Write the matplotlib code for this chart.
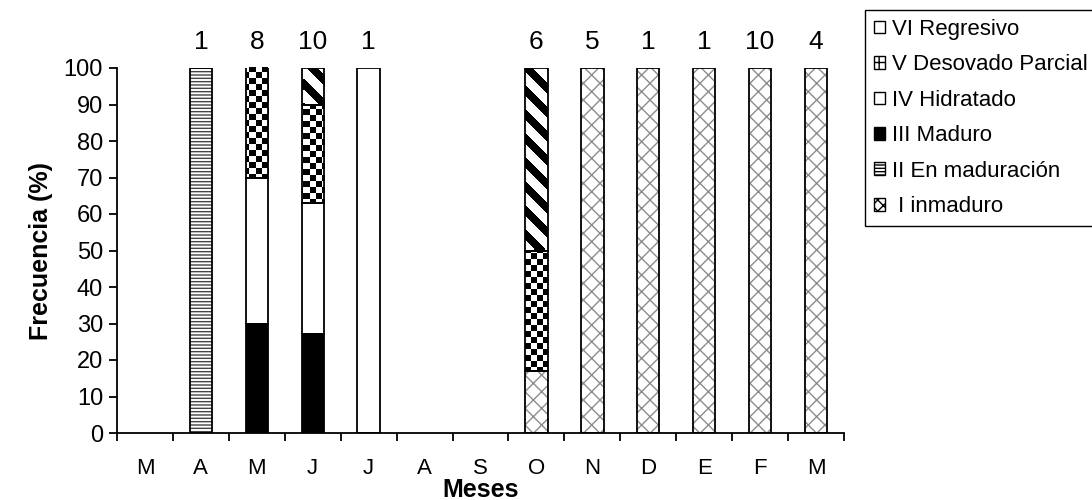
import numpy as np
import matplotlib
matplotlib.use('Agg')
import matplotlib.pyplot as plt
from matplotlib.patches import Patch

plt.rcParams['font.family'] = ['Liberation Sans', 'DejaVu Sans']

# data
months = ['M', 'A', 'M', 'J', 'J', 'A', 'S', 'O', 'N', 'D', 'E', 'F', 'M']
n_fish = ['', '1', '8', '10', '1', '', '', '6', '5', '1', '1', '10', '4']
stage_I = [0, 0, 0, 0, 0, 0, 0, 17, 100, 100, 100, 100, 100]
stage_II = [0, 100, 0, 0, 0, 0, 0, 0, 0, 0, 0, 0, 0]
stage_III = [0, 0, 30, 27, 0, 0, 0, 0, 0, 0, 0, 0, 0]
stage_IV = [0, 0, 40, 36, 100, 0, 0, 0, 0, 0, 0, 0, 0]
stage_V = [0, 0, 31, 27, 0, 0, 0, 33, 0, 0, 0, 0, 0]
stage_VI = [0, 0, 0, 10, 0, 0, 0, 50, 0, 0, 0, 0, 0]
labels = [' I inmaduro', 'II En maduración', 'III Maduro', 'IV Hidratado',
          'V Desovado Parcial', 'VI Regresivo']

# style per stage: facecolor, hatch, hatch color
styles = [
    ('white', 'xx', '#8c8c8c'),
    ('white', '-----', '#444444'),
    ('black', None, 'black'),
    ('white', None, 'black'),
    ('none', None, 'black'),   # checkerboard, drawn as texture
    ('none', None, 'black'),   # diagonal stripes, drawn as texture
]

fig = plt.figure(figsize=(10.92, 5), dpi=100)
ax = fig.add_axes([117/1092, 1-433/500, 727/1092, 365/500])

x = np.arange(len(months))
w = 0.4
stages = [stage_I, stage_II, stage_III, stage_IV, stage_V, stage_VI]
bottom = np.zeros(len(months))

# textures in screen pixels over the axes area (727 x 365)
rr, cc = np.mgrid[0:365, 0:727]
checker = (((rr // 6) + (cc // 6)) % 2).astype(float)
stripes = (((rr + cc) % 24) >= 11).astype(float)
textures = {4: checker, 5: stripes}

for k, vals in enumerate(stages):
    vals = np.array(vals, dtype=float)
    fc, hatch, hc = styles[k]
    bars = ax.bar(x, vals, w, bottom=bottom, color=fc, hatch=hatch,
                  edgecolor=hc, linewidth=0, zorder=1)
    if k in textures:
        for b, v in zip(bars, vals):
            if v > 0:
                im = ax.imshow(textures[k], cmap='gray', vmin=0, vmax=1,
                               extent=[-0.5, 12.5, 0, 100], aspect='auto',
                               interpolation='nearest', zorder=0.5,
                               origin='lower')
                im.set_clip_path(b)
    outline = ax.bar(x, vals, w, bottom=bottom, fill=False,
                     edgecolor='black', linewidth=1.3, zorder=2)
    for b, v in zip(outline, vals):
        if v == 0:
            b.set_visible(False)
    bottom += vals

for xi, t in zip(x, n_fish):
    ax.text(xi, 107, t, ha='center', va='center', fontsize=19, clip_on=False)

ax.set_xlim(-0.5, 12.5)
ax.set_ylim(0, 100)
ax.set_yticks(np.arange(0, 101, 10))
ax.set_xticks(x)
ax.set_xticklabels(months)
ax.set_xticks(np.arange(-0.5, 13, 1), minor=True)
ax.tick_params(axis='x', which='major', length=0, pad=18, labelsize=16)
ax.tick_params(axis='x', which='minor', length=6, width=1.3, direction='out')
ax.tick_params(axis='y', length=6, width=1.3, labelsize=17, pad=4)
for s in ['top', 'right']:
    ax.spines[s].set_visible(False)
for s in ['left', 'bottom']:
    ax.spines[s].set_linewidth(1.3)

ax.set_xlabel('Meses', fontsize=18, fontweight='bold')
ax.xaxis.set_label_coords(0.5, -0.123)
ax.set_ylabel('Frecuencia (%)', fontsize=18, fontweight='bold', labelpad=8)

with plt.rc_context({'hatch.linewidth': 2.5}):
    handles = [
        Patch(facecolor='white', hatch='xxx', edgecolor='black'),
        Patch(facecolor='white', hatch='-----', edgecolor='black'),
        Patch(facecolor='black', edgecolor='black'),
        Patch(facecolor='white', edgecolor='black'),
        Patch(facecolor='white', hatch='++', edgecolor='black'),
        Patch(facecolor='white', hatch='\\', edgecolor='black'),
    ]

leg = fig.legend(handles[::-1], labels[::-1], loc='upper left',
                 bbox_to_anchor=(865/1092, 1-10/500), fontsize=16,
                 handlelength=0.5, handleheight=0.5, handletextpad=0.3,
                 labelspacing=0.65, borderpad=0.4, borderaxespad=0,
                 fancybox=False, framealpha=1, edgecolor='black')
leg.get_frame().set_linewidth(1.0)

fig.savefig('out.png', dpi=100)
